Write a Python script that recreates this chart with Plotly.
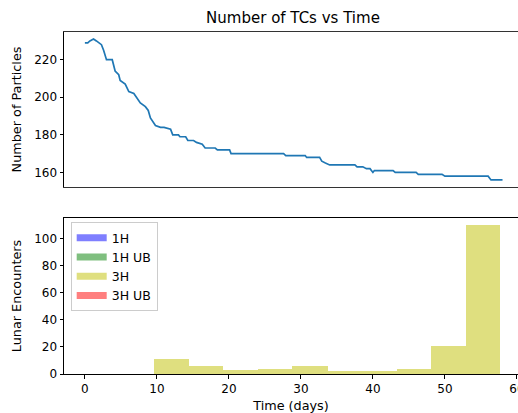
import numpy as np
import plotly.graph_objects as go

# ---- data: number of particles vs time ----
time_days = [0.0, 0.4, 0.7, 1.2, 1.6, 2.0, 2.3, 2.6, 2.9, 3.0, 3.8, 4.0, 4.2, 4.7, 4.9,
             5.6, 6.1, 6.8, 7.2, 7.7, 8.4, 8.8, 9.1, 9.5, 9.8, 10.5, 11.0, 11.9, 12.2,
             13.0, 13.2, 14.0, 14.3, 15.1, 15.5, 16.3, 16.7, 18.1, 18.4, 20.1, 20.3,
             27.6, 27.9, 30.6, 30.8, 32.6, 32.9, 33.4, 34.0, 37.5, 37.8, 38.6, 39.1,
             39.6, 39.8, 40.0, 40.2, 42.8, 43.1, 46.0, 46.3, 49.6, 50.0, 56.0, 56.4, 58.0]
n_particles = [229, 229, 230, 231, 230, 229, 228, 225, 222, 220, 220, 217, 214, 212, 209,
               207, 203, 202, 200, 197, 195, 193, 189, 187, 185, 184, 184, 183, 180,
               180, 179, 179, 177, 177, 176, 175, 173, 173, 172, 172, 170,
               170, 169, 169, 168, 168, 166, 165, 164, 164, 163, 163, 162,
               162, 161, 160, 161, 161, 160, 160, 159, 159, 158, 158, 156, 156]

# ---- data: lunar encounter histograms ----
bin_edges = [9.6, 14.4, 19.2, 24.0, 28.8, 33.7, 38.5, 43.3, 48.1, 52.9, 57.7]
counts_1h = [0, 0, 0, 0, 0, 0, 0, 0, 0, 0]
counts_1h_ub = [0, 0, 0, 0, 0, 0, 0, 0, 0, 0]
counts_3h = [11, 6, 3, 4, 6, 2, 2, 4, 21, 110]
counts_3h_ub = [0, 0, 0, 0, 0, 0, 0, 0, 0, 0]
series_names = ["1H", "1H UB", "3H", "3H UB"]
series_colors = ["rgba(0,0,255,0.5)", "rgba(0,128,0,0.5)",
                 "rgba(191,191,0,0.5)", "rgba(255,0,0,0.5)"]
series_counts = [counts_1h, counts_1h_ub, counts_3h, counts_3h_ub]

x_ticks = [0, 10, 20, 30, 40, 50, 60]
y_ticks_top = [160, 180, 200, 220]
y_ticks_bottom = [0, 20, 40, 60, 80, 100]

FONT = "DejaVu Sans"
W, H = 518, 413

edges = np.array(bin_edges)
centers = (edges[:-1] + edges[1:]) / 2
widths = np.diff(edges)

fig = go.Figure()

fig.add_trace(go.Scatter(
    x=time_days, y=n_particles, mode="lines",
    line=dict(color="#1f77b4", width=1.7),
    showlegend=False, xaxis="x", yaxis="y",
))

for name, color, cnt in zip(series_names, series_colors, series_counts):
    fig.add_trace(go.Bar(x=centers, y=cnt, width=widths, name=name,
                         legendgroup=name, showlegend=False,
                         marker=dict(color=color, line=dict(width=0)),
                         xaxis="x2", yaxis="y2"))
    # legend patch (matplotlib-style wide rectangle)
    fig.add_trace(go.Scatter(x=[None], y=[None], mode="lines", name=name,
                             legendgroup=name, line=dict(color=color, width=7),
                             xaxis="x2", yaxis="y2", hoverinfo="skip"))

axis_common = dict(
    showgrid=False, zeroline=False, linecolor="black", linewidth=1,
    ticks="outside", ticklen=3.5, tickwidth=0.8, tickcolor="black",
    tickfont=dict(family=FONT, size=12, color="black"), automargin=False,
)
label_font = dict(family=FONT, size=12.8, color="black")

xr = [-2.9, 60.15]
fig.update_layout(
    width=W, height=H, autosize=False,
    margin=dict(l=64, r=0, t=0, b=0),
    paper_bgcolor="white", plot_bgcolor="white",
    barmode="overlay", bargap=0,
    font=dict(family=FONT, size=12, color="black"),
    title=dict(text="Number of TCs vs Time", x=293 / W, xanchor="center",
               y=1 - 18 / H, yanchor="middle", xref="container", yref="container",
               font=dict(family=FONT, size=15, color="black"), automargin=False),
    xaxis=dict(axis_common, domain=[0, 1], range=xr, anchor="y",
               showline=True, mirror=True, showticklabels=False, ticks="",
               linecolor="#333333"),
    yaxis=dict(axis_common, domain=[1 - 187 / H, 1 - 32 / H], range=[152.25, 234.75],
               anchor="x", showline=True, mirror=False, tickvals=y_ticks_top,
               title=dict(text="Number of Particles", standoff=9, font=label_font)),
    xaxis2=dict(axis_common, domain=[0, 1], range=xr, anchor="y2",
                showline=True, mirror=True, tickvals=x_ticks,
                ticklabeloverflow="allow", ticklabelstandoff=0,
                title=dict(text="Time (days)", standoff=14, font=label_font)),
    yaxis2=dict(axis_common, domain=[1 - 374 / H, 1 - 218 / H], range=[0, 115.5],
                anchor="x2", showline=True, mirror=False, tickvals=y_ticks_bottom,
                title=dict(text="Lunar Encounters", standoff=9, font=label_font)),
    legend=dict(x=(70.7 - 64) / 454, y=1 - 222 / H, xanchor="left", yanchor="top",
                bgcolor="rgba(255,255,255,0.8)", bordercolor="#cccccc", borderwidth=1,
                font=dict(family=FONT, size=12.5, color="black"), traceorder="normal",
                tracegroupgap=0),
)

fig.write_html("out.html")
